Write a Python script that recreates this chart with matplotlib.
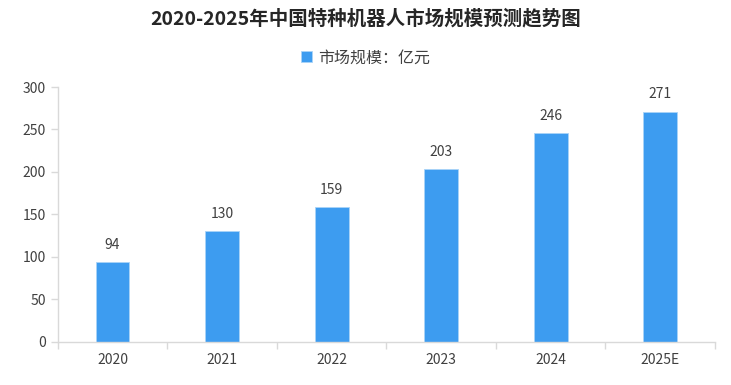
import matplotlib
matplotlib.use('Agg')
import matplotlib.pyplot as plt
import numpy as np

plt.rcParams['font.family'] = ['Noto Sans CJK SC', 'DejaVu Sans']

years = ['2020', '2021', '2022', '2023', '2024', '2025E']
market_size = [94, 130, 159, 203, 246, 271]
title = '2020-2025年中国特种机器人市场规模预测趋势图'
series_name = '市场规模：亿元'

bar_color = '#3d9cf0'
axis_color = '#d9d9d9'
text_color = '#404040'

fig = plt.figure(figsize=(7.31, 3.85), dpi=100)
ax = fig.add_axes([0.079, 0.112, 0.899, 0.662])

x = np.arange(len(years))
bars = ax.bar(x, market_size, width=0.31, color=bar_color, label=series_name,
              edgecolor='#a9d3f8', linewidth=0.6)

for xi, v in zip(x, market_size):
    ax.text(xi, v + 12, str(v), ha='center', va='bottom', fontsize=10, color=text_color)

ax.set_xlim(-0.5, len(years) - 0.5)
ax.set_ylim(0, 300)
ax.set_yticks(range(0, 301, 50))
ax.set_xticks(x)
ax.set_xticklabels(years)
ax.set_xticks(np.arange(-0.5, len(years)), minor=True)
ax.tick_params(axis='x', which='major', length=0, pad=8, labelsize=10, labelcolor=text_color)
ax.tick_params(axis='x', which='minor', length=5, color=axis_color, width=1)
ax.tick_params(axis='y', length=5, color=axis_color, width=1, labelsize=10, labelcolor=text_color)

for s in ['top', 'right']:
    ax.spines[s].set_visible(False)
for s in ['left', 'bottom']:
    ax.spines[s].set_color(axis_color)
    ax.spines[s].set_linewidth(1)

fig.text(0.5, 0.952, title, ha='center', va='center', fontsize=14, fontweight='bold', color='#262626')
fig.legend(loc='center', bbox_to_anchor=(0.5, 0.85), frameon=False, fontsize=11.5,
           handlelength=0.7, handleheight=0.7, handletextpad=0.4, labelcolor=text_color)

fig.savefig('out.png', dpi=100)
